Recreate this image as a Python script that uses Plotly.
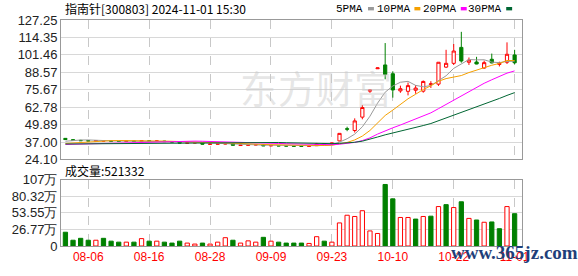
import plotly.graph_objects as go
import pandas as pd

# ---------------- data ----------------
DATES = ["08-01", "08-02", "08-05", "08-06", "08-07", "08-08", "08-09", "08-12", "08-13", "08-14",
         "08-15", "08-16", "08-19", "08-20", "08-21", "08-22", "08-23", "08-26", "08-27", "08-28",
         "08-29", "08-30", "09-02", "09-03", "09-04", "09-05", "09-06", "09-09", "09-10", "09-11",
         "09-12", "09-13", "09-18", "09-19", "09-20", "09-23", "09-24", "09-25", "09-26", "09-27",
         "09-30", "10-08", "10-09", "10-10", "10-11", "10-14", "10-15", "10-16", "10-17", "10-18",
         "10-21", "10-22", "10-23", "10-24", "10-25", "10-28", "10-29", "10-30", "10-31", "11-01"]
TICK_DATES = ["08-06", "08-16", "08-28", "09-09", "09-23", "10-10", "10-22", "11-01"]

OPEN = [39.7, 38.7, 38.2, 38.0, 37.8, 37.7, 37.9, 37.5, 37.4, 37.7,
        37.5, 37.9, 37.6, 37.7, 37.2, 36.9, 36.1, 36.3, 36.3, 35.3,
        35.4, 35.5, 35.6, 34.4, 34.6, 34.8, 34.9, 34.1, 34.4, 34.2,
        34.1, 34.0, 33.8, 34.3, 35.7, 35.5, 37.8, 46.8, 45.5, 55.4,
        74.6, 91.2, 94.0, 87.5, 74.8, 74.5, 75.3, 74.6, 79.5, 79.8,
        92.4, 95.2, 107.0, 96.0, 96.2, 91.7, 98.2, 94.4, 96.0, 101.4]
HIGH = [39.9, 38.9, 38.6, 38.1, 38.2, 38.3, 38.0, 37.7, 37.9, 37.8,
        38.4, 38.0, 38.1, 37.8, 37.3, 37.0, 36.6, 36.7, 36.4, 35.7,
        35.8, 36.1, 35.8, 34.9, 35.1, 35.2, 35.0, 34.6, 34.5, 34.3,
        34.2, 34.1, 34.2, 36.3, 35.9, 36.5, 43.4, 48.3, 54.5, 64.4,
        75.6, 92.0, 110.2, 89.3, 78.7, 81.0, 79.1, 82.5, 82.0, 96.0,
        105.2, 109.5, 118.5, 99.5, 100.0, 97.2, 102.4, 96.4, 110.7, 105.2]
LOW = [38.5, 38.1, 37.8, 37.6, 37.6, 37.5, 37.4, 37.2, 37.2, 37.3,
       37.4, 37.4, 37.4, 37.1, 36.8, 36.0, 35.9, 36.1, 35.2, 35.1,
       35.2, 35.3, 34.4, 34.2, 34.4, 34.6, 34.0, 33.9, 33.9, 33.8,
       33.7, 33.6, 33.5, 34.1, 35.2, 35.3, 37.6, 45.0, 44.0, 53.8,
       73.3, 91.0, 83.4, 69.8, 73.4, 71.5, 72.7, 73.5, 77.0, 78.5,
       91.7, 94.0, 95.7, 94.0, 94.5, 91.2, 95.2, 92.9, 94.7, 94.5]
CLOSE = [38.8, 38.3, 38.0, 37.8, 38.0, 37.9, 37.6, 37.4, 37.7, 37.5,
         38.0, 37.6, 37.8, 37.3, 37.0, 36.2, 36.4, 36.5, 35.4, 35.5,
         35.6, 35.8, 34.6, 34.7, 34.9, 35.0, 34.2, 34.4, 34.1, 34.0,
         33.9, 33.8, 34.0, 35.6, 35.4, 36.2, 43.4, 46.5, 52.6, 62.5,
         75.4, 91.8, 86.9, 75.5, 76.4, 78.7, 76.9, 81.8, 80.0, 96.0,
         95.2, 104.3, 96.9, 97.6, 94.7, 95.7, 95.5, 95.2, 101.9, 95.6]
# volume in 万 (10k shares)
VOLUME_WAN = [22.2, 9.3, 12.4, 9.3, 9.3, 12.4, 7.8, 6.2, 6.2, 6.2,
              11.9, 7.8, 7.8, 6.2, 4.7, 7.8, 4.7, 3.1, 4.7, 3.1,
              6.2, 13.4, 9.3, 4.7, 8.3, 6.2, 14.0, 7.8, 6.2, 4.7,
              4.7, 4.7, 4.1, 15.0, 7.8, 6.2, 37.2, 49.6, 47.6, 56.9,
              24.3, 20.2, 99.2, 76.0, 46.0, 46.0, 43.4, 47.6, 48.1, 63.6,
              66.7, 62.0, 71.3, 44.5, 41.9, 38.3, 38.8, 27.9, 63.6, 52.1332]
# closes before the shown window (used only to seed the moving averages)
PRIOR_CLOSES = [37.0, 36.8, 36.5, 36.6, 36.2, 36.0, 36.3, 35.9, 35.6, 35.5,
                35.2, 34.8, 34.9, 34.5, 34.2, 34.4, 34.0, 33.8, 34.1, 34.3,
                34.0, 33.9, 34.2, 34.5, 34.8, 35.6, 36.2, 37.5, 39.8]

PRICE_TICKS = [24.10, 37.00, 49.89, 62.78, 75.67, 88.57, 101.46, 114.35, 127.25]
VOL_TICKS = [0, 26.77, 53.55, 80.32, 107]
VOL_TICK_TEXT = ["0", "26.77万", "53.55万", "80.32万", "107万"]
MA_PERIODS = [5, 10, 20, 30]
MA_NAMES = ["5PMA", "10PMA", "20PMA", "30PMA"]
TITLE = "指南针[300803] 2024-11-01 15:30"
VOL_LABEL = "成交量:521332"

# ---------------- styles ----------------
RED = "#ff0000"
GREEN = "#008000"
MA_COLORS = ["#999999", "#f5a000", "#ff00ff", "#006633"]
FIG_W, FIG_H = 578, 276
L, R, T, B = 55, 56, 20, 21
PLOT_W = FIG_W - L - R
PLOT_H = FIG_H - T - B


def px_x(px):
    return (px - L) / PLOT_W


def px_y(py):
    return (FIG_H - B - py) / PLOT_H


n = len(CLOSE)
xs = list(range(n))
tickvals = [DATES.index(d) for d in TICK_DATES]

all_closes = pd.Series(PRIOR_CLOSES + CLOSE)
ma = {p: all_closes.rolling(p).mean().iloc[-n:].tolist() for p in MA_PERIODS}

prev_close = [PRIOR_CLOSES[-1]] + CLOSE[:-1]
up_day = [c >= pc for c, pc in zip(CLOSE, prev_close)]

fig = go.Figure()

fig.add_trace(go.Candlestick(
    x=xs, open=OPEN, high=HIGH, low=LOW, close=CLOSE,
    increasing=dict(line=dict(color=RED, width=1), fillcolor="white"),
    decreasing=dict(line=dict(color=GREEN, width=1), fillcolor=GREEN),
    whiskerwidth=0, xaxis="x", yaxis="y", showlegend=False, hoverinfo="skip"))

for p, col in zip(MA_PERIODS, MA_COLORS):
    fig.add_trace(go.Scatter(x=xs, y=ma[p], mode="lines", line=dict(color=col, width=1),
                             xaxis="x", yaxis="y", showlegend=False, hoverinfo="skip"))

fig.add_trace(go.Bar(
    x=xs, y=VOLUME_WAN, width=0.56,
    marker=dict(color=["white" if u else GREEN for u in up_day],
                line=dict(color=[RED if u else GREEN for u in up_day], width=1)),
    xaxis="x2", yaxis="y2", showlegend=False, hoverinfo="skip"))

xr = [-0.58, 59.97]
common_x = dict(range=xr, tickvals=tickvals, showgrid=True, gridcolor="#c8c8c8", griddash="dash",
                gridwidth=1, zeroline=False, showline=True, mirror=True, linecolor="#999999",
                linewidth=1, ticks="", fixedrange=True)
fig.update_layout(
    width=FIG_W, height=FIG_H,
    margin=dict(l=L, r=R, t=T, b=B, pad=0),
    paper_bgcolor="white", plot_bgcolor="white",
    font=dict(family="Liberation Sans, Arial, sans-serif", size=13, color="#222222"),
    boxgap=0.4,
    xaxis=dict(domain=[0, 1], anchor="y", showticklabels=False, rangeslider=dict(visible=False), **common_x),
    xaxis2=dict(domain=[0, 1], anchor="y2", ticktext=TICK_DATES, showticklabels=True,
                tickfont=dict(color=RED, size=12, family="Liberation Sans, Arial"), **common_x),
    yaxis=dict(domain=[px_y(165), 1], range=[PRICE_TICKS[0], PRICE_TICKS[-1]], tickvals=PRICE_TICKS,
               ticktext=[f"{v:.2f}" for v in PRICE_TICKS], showgrid=True, gridcolor="#d8d8d8",
               zeroline=False, showline=True, mirror=True, linecolor="#999999", ticks="",
               tickfont=dict(size=13, color="#222222")),
    yaxis2=dict(domain=[0, px_y(186)], range=[0, 107], tickvals=VOL_TICKS, ticktext=VOL_TICK_TEXT,
                showgrid=True, gridcolor="#d8d8d8", zeroline=False, showline=True, mirror=True,
                linecolor="#999999", ticks="", tickfont=dict(size=13, color="#222222")),
)

ann = []
shapes = []
# watermark
ann.append(dict(text="东方财富", x=px_x(313), y=px_y(89), xref="paper", yref="paper",
                showarrow=False, font=dict(size=38, color="rgba(200,200,200,0.45)",
                                           family="Noto Sans CJK SC"), xanchor="center", yanchor="middle"))
ann.append(dict(text=TITLE, x=px_x(57), y=px_y(8.5), xref="paper", yref="paper", showarrow=False,
                xanchor="left", yanchor="middle",
                font=dict(size=12, color="#000000", family="Noto Sans CJK SC")))
ann.append(dict(text=VOL_LABEL, x=px_x(57), y=px_y(177), xref="paper", yref="paper", showarrow=False,
                xanchor="left", yanchor="middle",
                font=dict(size=12, color="#000000", family="Noto Sans CJK SC")))
# legend: text end x and colour-square x (pixels)
leg_text_end = [363, 411, 457, 503]
leg_sq_x = [366, 413, 460, 506]
for name, col, tx, sx in zip(MA_NAMES, MA_COLORS, leg_text_end, leg_sq_x):
    ann.append(dict(text=name, x=px_x(tx), y=px_y(8.5), xref="paper", yref="paper", showarrow=False,
                    xanchor="right", yanchor="middle",
                    font=dict(size=11, color="#000000", family="Liberation Mono, DejaVu Sans Mono")))
    shapes.append(dict(type="rect", xref="paper", yref="paper", x0=px_x(sx), x1=px_x(sx + 6),
                       y0=px_y(10), y1=px_y(6.5), fillcolor=col, line=dict(width=0)))
ann.append(dict(text="<b>www.365jz.com</b>", x=px_x(514), y=px_y(262), xref="paper", yref="paper",
                showarrow=False, xanchor="center", yanchor="middle",
                font=dict(size=19, color="#1f3f7a", family="Liberation Serif, DejaVu Serif")))
fig.update_layout(annotations=ann, shapes=shapes)

fig.write_html("out.html")
